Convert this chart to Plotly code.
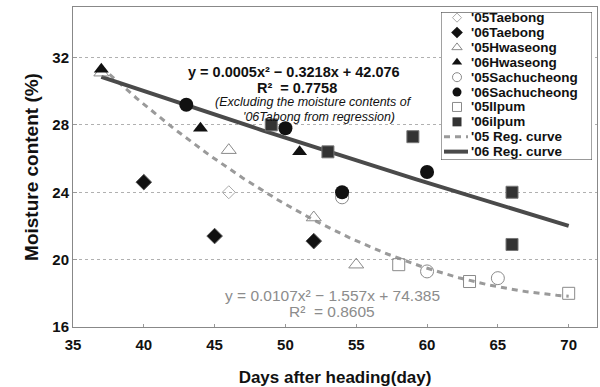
import numpy as np
import plotly.graph_objects as go

# ---------------- data ----------------
taebong05_x = [46]
taebong05_y = [24.0]
taebong06_x = [40, 45, 52]
taebong06_y = [24.6, 21.4, 21.1]
hwaseong05_x = [37, 46, 52, 55]
hwaseong05_y = [31.1, 26.5, 22.5, 19.7]
hwaseong06_x = [37, 44, 51]
hwaseong06_y = [31.3, 27.8, 26.4]
sachu05_x = [54, 60, 65]
sachu05_y = [23.7, 19.3, 18.9]
sachu06_x = [43, 50, 54, 60]
sachu06_y = [29.2, 27.8, 24.0, 25.2]
ilpum05_x = [58, 63, 70]
ilpum05_y = [19.7, 18.7, 18.0]
ilpum06_x = [49, 53, 59, 66, 66]
ilpum06_y = [28.0, 26.4, 27.3, 24.0, 20.9]

reg05_coef = [0.0107, -1.557, 74.385]
reg06_coef = [0.0005, -0.3218, 42.076]
reg_x_range = [37, 70]

x_ticks = [35, 40, 45, 50, 55, 60, 65, 70]
y_ticks = [16, 20, 24, 28, 32]

eq06_lines = ["y = 0.0005x² − 0.3218x + 42.076", "R²  = 0.7758"]
note_lines = ["(Excluding the moisture contents of", "'06Tabong from regression)"]
eq05_lines = ["y = 0.0107x² − 1.557x + 74.385", "R²  = 0.8605"]

FONT = "Liberation Sans, Arial, sans-serif"
GRAY_OPEN = "#8a8a8a"

series = [
    ("'05Taebong", taebong05_x, taebong05_y, dict(symbol="diamond-open", size=10, color="#aaaaaa", line=dict(width=1)), dict(symbol="diamond-open", size=7, color="#aaaaaa")),
    ("'06Taebong", taebong06_x, taebong06_y, dict(symbol="diamond", size=12, color="#111111", line=dict(width=1, color="#555")), dict(symbol="diamond", size=9, color="#111111")),
    ("'05Hwaseong", hwaseong05_x, hwaseong05_y, dict(symbol="triangle-up-open", size=13, color=GRAY_OPEN, line=dict(width=1)), dict(symbol="triangle-up-open", size=9, color=GRAY_OPEN)),
    ("'06Hwaseong", hwaseong06_x, hwaseong06_y, dict(symbol="triangle-up", size=13, color="#111111"), dict(symbol="triangle-up", size=9, color="#111111")),
    ("'05Sachucheong", sachu05_x, sachu05_y, dict(symbol="circle-open", size=13, color=GRAY_OPEN, line=dict(width=1)), dict(symbol="circle-open", size=9, color=GRAY_OPEN)),
    ("'06Sachucheong", sachu06_x, sachu06_y, dict(symbol="circle", size=14, color="#111111"), dict(symbol="circle", size=9, color="#111111")),
    ("'05Ilpum", ilpum05_x, ilpum05_y, dict(symbol="square-open", size=12, color=GRAY_OPEN, line=dict(width=1)), dict(symbol="square-open", size=9, color=GRAY_OPEN)),
    ("'06ilpum", ilpum06_x, ilpum06_y, dict(symbol="square", size=12, color="#333333", line=dict(width=1, color="#777")), dict(symbol="square", size=9, color="#333333")),
]

reg_styles = [
    ("'05 Reg. curve", reg05_coef, dict(color="#9a9a9a", width=3, dash="6px,5px")),
    ("'06 Reg. curve", reg06_coef, dict(color="#4a4a4a", width=4)),
]

fig = go.Figure()

# regression curves (evaluated from the printed equations)
xr = np.linspace(reg_x_range[0], reg_x_range[1], 120)
for name, coef, style in reg_styles:
    fig.add_trace(go.Scatter(x=xr, y=np.polyval(coef, xr), mode="lines", line=style,
                             showlegend=False, hoverinfo="skip"))

# data points
for name, xs, ys, mk, _ in series:
    fig.add_trace(go.Scatter(x=xs, y=ys, mode="markers", marker=mk, name=name, showlegend=False))

# ---------------- manual legend in an inset axis ----------------
LEG_X = [0, 151]
LEG_Y = [-0.56, 9.37]
n_items = len(series) + len(reg_styles)
sym_x, text_x = 16, 29
LEG_FONT = dict(family=FONT, size=13.5, color="#111")
annotations = []
for i, (name, _, _, _, lmk) in enumerate(series):
    r = n_items - 1 - i
    fig.add_trace(go.Scatter(x=[sym_x], y=[r], mode="markers", marker=lmk, xaxis="x2", yaxis="y2",
                             showlegend=False, hoverinfo="skip"))
    annotations.append(dict(x=text_x, y=r, xref="x2", yref="y2", text=f"<b>{name}</b>", showarrow=False,
                            xanchor="left", yanchor="middle", borderpad=0, font=LEG_FONT))
for j, (name, _, style) in enumerate(reg_styles):
    i = len(series) + j
    r = n_items - 1 - i
    fig.add_trace(go.Scatter(x=[3, 27], y=[r, r], mode="lines", line=style, xaxis="x2", yaxis="y2",
                             showlegend=False, hoverinfo="skip"))
    annotations.append(dict(x=text_x, y=r, xref="x2", yref="y2", text=f"<b>{name}</b>", showarrow=False,
                            xanchor="left", yanchor="middle", borderpad=0, font=LEG_FONT))

# ---------------- equation annotations ----------------
eq_ann = [
    dict(x=50.6, y=31.15, text=f"<b>{eq06_lines[0]}</b>", font=dict(family=FONT, size=14.5, color="#111")),
    dict(x=50.8, y=30.17, text=f"<b>{eq06_lines[1]}</b>", font=dict(family=FONT, size=14.5, color="#111")),
    dict(x=52.0, y=29.35, text=f"<i>{note_lines[0]}</i>", font=dict(family=FONT, size=12.5, color="#111")),
    dict(x=52.4, y=28.45, text=f"<i>{note_lines[1]}</i>", font=dict(family=FONT, size=12.5, color="#111")),
    dict(x=53.3, y=17.85, text=eq05_lines[0], font=dict(family=FONT, size=15.5, color="#8c8c8c")),
    dict(x=53.3, y=16.9, text=eq05_lines[1], font=dict(family=FONT, size=15.5, color="#8c8c8c")),
]
for a in eq_ann:
    a.update(xref="x", yref="y", showarrow=False, xanchor="center", yanchor="middle", borderpad=0)
annotations += eq_ann

fig.update_layout(
    width=600, height=387,
    margin=dict(l=73, r=3, t=7, b=60),
    paper_bgcolor="white", plot_bgcolor="white",
    font=dict(family=FONT, color="#111"),
    showlegend=False,
    annotations=annotations,
    xaxis=dict(range=[35, 72], tickvals=x_ticks, ticktext=[f"<b>{v}</b>" for v in x_ticks],
               tickfont=dict(family=FONT, size=15, color="#111"),
               showgrid=False, zeroline=False, showline=True, linecolor="#888", linewidth=1, mirror=True,
               ticks="inside", ticklen=3, tickcolor="#999", ticklabelstandoff=4,
               title=dict(text="<b>Days after heading(day)</b>", font=dict(family=FONT, size=17, color="#111"), standoff=19)),
    yaxis=dict(range=[16, 35], tickvals=y_ticks, ticktext=[f"<b>{v}</b>" for v in y_ticks],
               tickfont=dict(family=FONT, size=15, color="#111"),
               showgrid=True, gridcolor="#b0b0b0", griddash="dot", gridwidth=1, zeroline=False,
               showline=True, linecolor="#888", linewidth=1, mirror=True,
               ticks="inside", ticklen=4, tickcolor="#999",
               title=dict(text="<b>Moisture content (%)</b>", font=dict(family=FONT, size=19, color="#111"), standoff=8)),
    xaxis2=dict(domain=[0.7023, 0.9905], range=LEG_X, anchor="y2", visible=False, fixedrange=True),
    yaxis2=dict(domain=[0.522, 0.984], range=LEG_Y, anchor="x2", visible=False, fixedrange=True),
    shapes=[dict(type="rect", xref="x2", yref="y2", x0=LEG_X[0], x1=LEG_X[1], y0=LEG_Y[0], y1=LEG_Y[1],
                 fillcolor="white", line=dict(color="#444", width=1), layer="below")],
)

fig.write_html("out.html", config={"displayModeBar": False},
               post_script="document.body.style.margin='0';")
